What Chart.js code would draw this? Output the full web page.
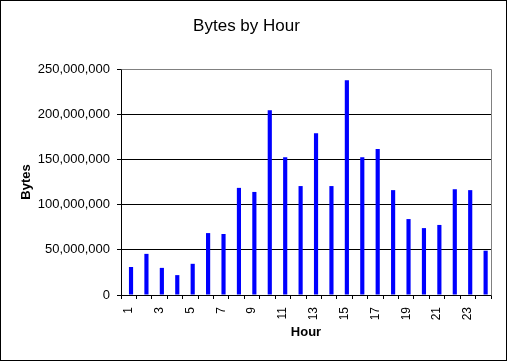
<!DOCTYPE html>
<html>
<head>
<meta charset="utf-8">
<script src="https://cdn.jsdelivr.net/npm/chart.js@4"></script>
<style>
  html, body { margin: 0; padding: 0; background: #fff; }
  #frame { width: 507px; height: 361px; box-sizing: border-box; border: 1px solid #000; }
  canvas { display: block; }
</style>
</head>
<body>
<div id="frame"><canvas id="bytesChart" width="505" height="359"></canvas></div>
<script>
// ─── DATA ───────────────────────────────────────────────────────
const hours = ["1","2","3","4","5","6","7","8","9","10","11","12",
               "13","14","15","16","17","18","19","20","21","22","23","24"];
const bytes = [31000000, 45500000, 30000000, 22000000, 34500000, 68500000,
               67500000, 118500000, 114000000, 204500000, 152500000, 120500000,
               179000000, 120500000, 237500000, 152500000, 161500000, 116000000,
               84000000, 74000000, 77500000, 117000000, 116000000, 49000000];
const yTicks = [0, 50000000, 100000000, 150000000, 200000000, 250000000];
const emptySlot = hours.map(() => null);

const FONT = "'Liberation Sans', Arial, sans-serif";

// gray frame on top/right of the plot area
const plotFrame = {
  id: "plotFrame",
  beforeDatasetsDraw(chart) {
    const { ctx, chartArea: a } = chart;
    ctx.save();
    ctx.strokeStyle = "#808080";
    ctx.lineWidth = 1;
    ctx.beginPath();
    ctx.moveTo(Math.round(a.left) + 0.5, Math.round(a.top) + 0.5);
    ctx.lineTo(Math.round(a.right) + 0.5, Math.round(a.top) + 0.5);
    ctx.lineTo(Math.round(a.right) + 0.5, Math.round(a.bottom) + 0.5);
    ctx.stroke();
    ctx.restore();
  },
};

new Chart(document.getElementById("bytesChart"), {
  type: "bar",
  data: {
    labels: hours,
    datasets: [
      { label: "", data: emptySlot, backgroundColor: "rgba(0,0,0,0)" },
      { label: "Bytes", data: bytes, backgroundColor: "#0000ff", borderWidth: 0 },
    ],
  },
  options: {
    responsive: false,
    animation: false,
    devicePixelRatio: 1,
    barPercentage: 0.9,
    categoryPercentage: 0.6,
    layout: { padding: { left: 0, right: 14, top: 0, bottom: 0 } },
    plugins: {
      legend: { display: false },
      tooltip: { enabled: false },
      title: {
        display: true,
        text: "Bytes by Hour",
        color: "#000",
        font: { family: FONT, size: 17, weight: "normal" },
        padding: { top: 15, bottom: 32.6 },
      },
    },
    scales: {
      x: {
        afterFit: (s) => { s.height = 65; },
        grid: { offset: true, drawOnChartArea: false, tickLength: 4, tickColor: "#000" },
        border: { color: "#000", width: 1 },
        ticks: {
          autoSkip: false,
          minRotation: 90,
          maxRotation: 90,
          padding: 8,
          color: "#000",
          font: { family: FONT, size: 12 },
          callback: (v, i) => (i % 2 === 0 ? hours[i] : ""),
        },
        title: {
          display: true,
          text: "Hour",
          color: "#000",
          font: { family: FONT, size: 13, weight: "bold" },
          padding: { top: 0, bottom: 20 },
        },
      },
      y: {
        min: 0,
        max: 250000000,
        afterFit: (s) => { s.width = 120; },
        afterBuildTicks: (s) => { s.ticks = yTicks.map((v) => ({ value: v })); },
        grid: {
          color: (c) => (c.tick && c.tick.value === 250000000 ? "#808080" : "#000"),
          tickColor: "#000",
          tickLength: 4,
        },
        border: { color: "#000", width: 1 },
        ticks: {
          padding: 7,
          color: "#000",
          font: { family: FONT, size: 13 },
          callback: (v) => Number(v).toLocaleString("en-US"),
        },
        title: {
          display: true,
          text: "Bytes",
          color: "#000",
          font: { family: FONT, size: 13, weight: "bold" },
          padding: { top: 18, bottom: 0 },
        },
      },
    },
  },
  plugins: [plotFrame],
});
</script>
</body>
</html>
